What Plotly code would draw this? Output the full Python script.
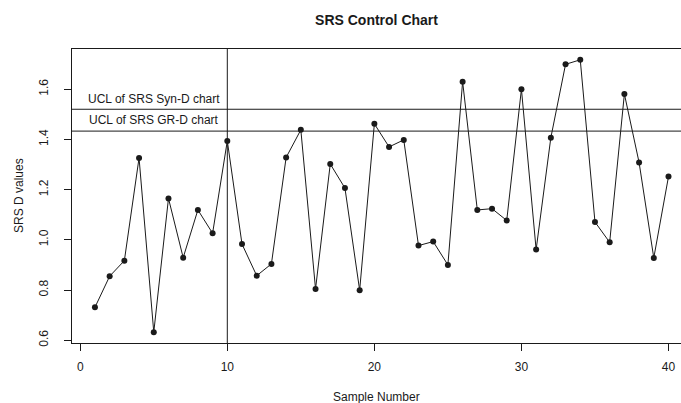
import plotly.graph_objects as go

# ---- data ----
sample_number = list(range(1, 41))
srs_d_values = [0.731, 0.855, 0.917, 1.326, 0.632, 1.165, 0.929, 1.119, 1.026, 1.394,
                0.983, 0.857, 0.904, 1.328, 1.438, 0.804, 1.302, 1.206, 0.799, 1.462,
                1.370, 1.398, 0.977, 0.993, 0.900, 1.630, 1.119, 1.124, 1.077, 1.600,
                0.961, 1.407, 1.699, 1.717, 1.071, 0.990, 1.581, 1.308, 0.928, 1.252]
ucl_names = ["UCL of SRS Syn-D chart", "UCL of SRS GR-D chart"]
ucl_values = [1.52, 1.433]
ucl_label_y = [1.56, 1.478]
ucl_label_x = 5
phase_line_x = 10
x_ticks = [0, 10, 20, 30, 40]
y_ticks = [0.6, 0.8, 1.0, 1.2, 1.4, 1.6]
y_tick_text = ["0.6", "0.8", "1.0", "1.2", "1.4", "1.6"]

FONT = "Liberation Sans, Arial, sans-serif"
INK = "#1a1a1a"

fig = go.Figure()
fig.add_trace(go.Scatter(
    x=sample_number, y=srs_d_values, mode="lines+markers",
    line=dict(color=INK, width=1),
    marker=dict(color=INK, size=6),
    showlegend=False, hoverinfo="skip"))

for v in ucl_values:
    fig.add_hline(y=v, line=dict(color=INK, width=1))
fig.add_vline(x=phase_line_x, line=dict(color=INK, width=1))

for name, ly in zip(ucl_names, ucl_label_y):
    fig.add_annotation(x=ucl_label_x, y=ly, xref="x", yref="y", text=name,
                       showarrow=False, font=dict(family=FONT, size=12, color=INK))

fig.update_layout(
    width=681, height=403,
    margin=dict(l=72, r=0, t=49, b=60),
    paper_bgcolor="white", plot_bgcolor="white",
    font=dict(family=FONT, size=12, color=INK),
    title=dict(text="<b>SRS Control Chart</b>", x=0.5, xref="paper", xanchor="center",
               y=1 - 20 / 403, yref="container", yanchor="middle",
               font=dict(family=FONT, size=14, color=INK)),
    showlegend=False,
)

fig.update_xaxes(range=[-0.56, 40.85], tickvals=x_ticks, ticks="outside", ticklen=7,
                 tickcolor=INK, showgrid=False, zeroline=False, ticklabelstandoff=6,
                 showline=True, linecolor=INK, linewidth=1, mirror=True,
                 tickfont=dict(family=FONT, size=12, color=INK))
fig.update_yaxes(range=[0.589, 1.760], tickvals=y_ticks, ticktext=y_tick_text,
                 ticks="outside", ticklen=7, tickangle=-90, ticklabelstandoff=11,
                 tickcolor=INK, showgrid=False, zeroline=False,
                 showline=True, linecolor=INK, linewidth=1, mirror=True,
                 tickfont=dict(family=FONT, size=12, color=INK))

fig.add_annotation(x=0.5, y=-54 / 294, xref="paper", yref="paper", text="Sample Number",
                   showarrow=False, font=dict(family=FONT, size=12, color=INK),
                   xanchor="center", yanchor="middle")
fig.add_annotation(x=-53 / 609, y=0.5, xref="paper", yref="paper", text="SRS D values",
                   showarrow=False, textangle=-90, font=dict(family=FONT, size=12, color=INK),
                   xanchor="center", yanchor="middle")

fig.write_html("out.html", config={"displayModeBar": False},
               post_script="document.body.style.margin='0';")
